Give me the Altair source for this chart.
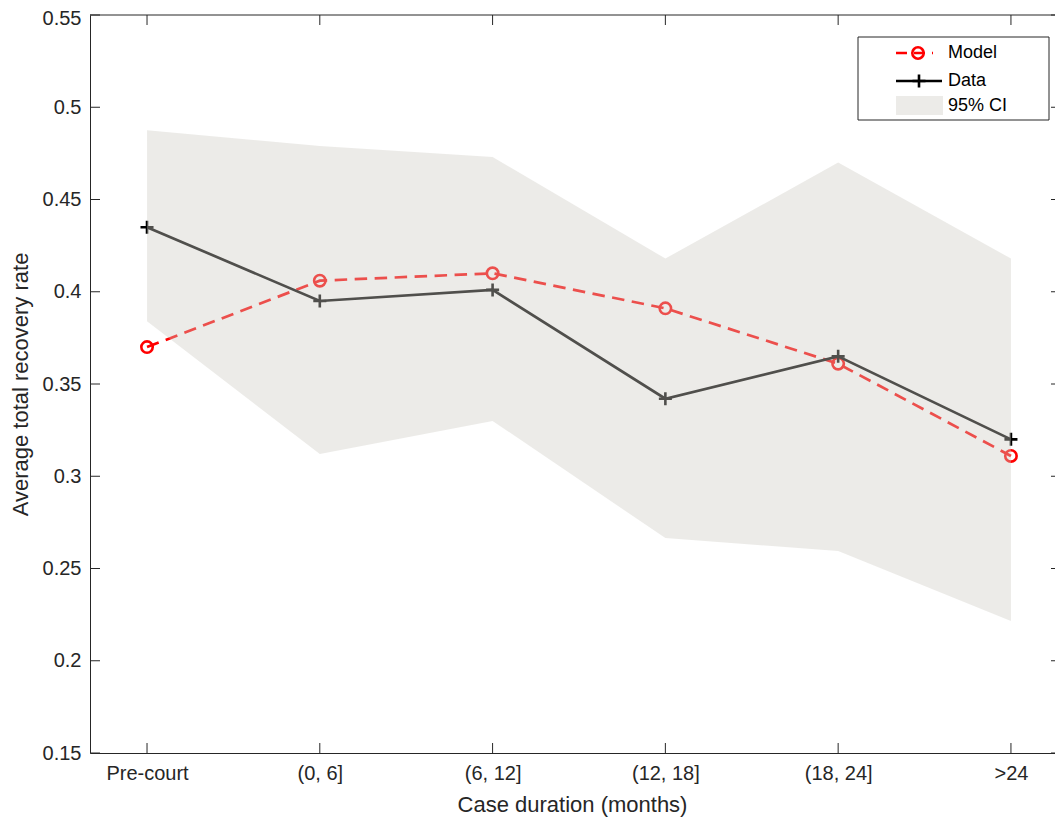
import altair as alt
import pandas as pd

# ---- data ----
categories = ["Pre-court", "(0, 6]", "(6, 12]", "(12, 18]", "(18, 24]", ">24"]
positions = [1, 2, 3, 4, 5, 6]
model_vals = [0.370, 0.406, 0.410, 0.391, 0.361, 0.311]
data_vals = [0.435, 0.395, 0.401, 0.342, 0.365, 0.320]
ci_low = [0.384, 0.312, 0.330, 0.2665, 0.2595, 0.2215]
ci_high = [0.4875, 0.479, 0.473, 0.418, 0.470, 0.418]
y_ticks = [0.15, 0.2, 0.25, 0.3, 0.35, 0.4, 0.45, 0.5, 0.55]

W, H = 965, 738
XDOM = [0.67, 6.255]
YDOM = [0.15, 0.55]
AX = "#262626"
FONT = "Liberation Sans"
CI_COLOR = "#cecbc4"
CI_OPACITY = 0.39

df = pd.DataFrame({
    "pos": positions,
    "cat": categories,
    "model": model_vals,
    "data": data_vals,
    "lo": ci_low,
    "hi": ci_high,
})

label_js = "[" + ",".join("'" + c + "'" for c in categories) + "][datum.value - 1]"

xs = alt.Scale(domain=XDOM, nice=False, zero=False)
ys = alt.Scale(domain=YDOM, nice=False, zero=False)

x_axis = alt.Axis(
    values=positions, labelExpr=label_js, title="Case duration (months)",
    ticks=False, tickSize=0, grid=False, domain=True, domainColor=AX, domainWidth=1,
    labelFontSize=20, labelColor=AX, labelPadding=26, labelBaseline="alphabetic",
    labelFlush=False, labelOverlap=False, labelFont=FONT,
    titleFontSize=22, titleFontWeight="normal", titleColor=AX, titleFont=FONT,
    titleX=482, titleY=58, titleBaseline="alphabetic",
)
y_axis = alt.Axis(
    values=y_ticks, format=".2~f", title="Average total recovery rate",
    ticks=False, tickSize=0, grid=False, domain=True, domainColor=AX, domainWidth=1,
    labelFontSize=20, labelColor=AX, labelPadding=9, labelBaseline="middle",
    labelOffset={"condition": {"test": "datum.value > 0.54", "value": 3}, "value": 0},
    labelFlush=False, labelOverlap=False, labelFont=FONT,
    titleFontSize=22, titleFontWeight="normal", titleColor=AX, titleFont=FONT,
    titleX=-70, titleY=369, titleAngle=270, titleAlign="center", titleBaseline="middle",
)


def XQ(f):
    return alt.X(f, type="quantitative", scale=xs, axis=x_axis)


def YQ(f):
    return alt.Y(f, type="quantitative", scale=ys, axis=y_axis)


base = alt.Chart(df)

model_line = base.mark_line(color="red", strokeWidth=2.7, strokeDash=[12.5, 7.5]).encode(
    x=XQ("pos"), y=YQ("model"))
model_pts = base.mark_point(shape="circle", size=130, filled=False, color="red",
                            strokeWidth=2.6, opacity=1).encode(x=XQ("pos"), y=YQ("model"))
data_line = base.mark_line(color="black", strokeWidth=2.7).encode(
    x=XQ("pos"), y=YQ("data"))
data_pts = base.mark_point(shape="M-1,0L1,0M0,-1L0,1", size=170, filled=False,
                           color="black", strokeWidth=2.6, opacity=1).encode(
    x=XQ("pos"), y=YQ("data"))
area = base.mark_area(color=CI_COLOR, opacity=CI_OPACITY).encode(
    x=XQ("pos"), y=YQ("lo"), y2="hi:Q")

# inward tick marks and the top frame line
ytdf = pd.DataFrame({"v": y_ticks})
xtdf = pd.DataFrame({"v": positions})
one = pd.DataFrame({"k": [0]})
TL = 10
yt_left = alt.Chart(ytdf).mark_rule(color=AX, strokeWidth=1).encode(
    y=YQ("v"), x=alt.value(0), x2=alt.value(TL))
yt_right = alt.Chart(ytdf).mark_rule(color=AX, strokeWidth=1).encode(
    y=YQ("v"), x=alt.value(W - 4), x2=alt.value(W))
xt_bot = alt.Chart(xtdf).mark_rule(color=AX, strokeWidth=1).encode(
    x=XQ("v"), y=alt.value(H - TL), y2=alt.value(H))
xt_top = alt.Chart(xtdf).mark_rule(color=AX, strokeWidth=1).encode(
    x=XQ("v"), y=alt.value(0), y2=alt.value(TL))
top_line = alt.Chart(one).mark_rule(color=AX, strokeWidth=1).encode(
    x=alt.value(0), x2=alt.value(W), y=alt.value(0))

# legend (decoration)
LX0, LX1, LY0, LY1 = 768, 959, 22, 105
leg_box = alt.Chart(one).mark_rect(fill="white", stroke=AX, strokeWidth=1).encode(
    x=alt.value(LX0), x2=alt.value(LX1), y=alt.value(LY0), y2=alt.value(LY1))
leg_model_line = alt.Chart(one).mark_rule(color="red", strokeWidth=2.7, strokeDash=[11, 7]).encode(
    x=alt.value(806), x2=alt.value(843), y=alt.value(38))
leg_model_pt = alt.Chart(one).mark_point(shape="circle", size=130, filled=False, color="red",
                                         strokeWidth=2.6, opacity=1).encode(
    x=alt.value(828), y=alt.value(38))
leg_data_line = alt.Chart(one).mark_rule(color="black", strokeWidth=2.7).encode(
    x=alt.value(806), x2=alt.value(852), y=alt.value(66))
leg_data_pt = alt.Chart(one).mark_point(shape="M-1,0L1,0M0,-1L0,1", size=170, filled=False,
                                        color="black", strokeWidth=2.6, opacity=1).encode(
    x=alt.value(829), y=alt.value(66))
leg_ci = alt.Chart(one).mark_rect(fill=CI_COLOR, opacity=CI_OPACITY).encode(
    x=alt.value(806), x2=alt.value(853), y=alt.value(81), y2=alt.value(100))


def leg_text(txt, y):
    return alt.Chart(one).mark_text(align="left", baseline="middle", fontSize=18,
                                    font=FONT, color="black").encode(
        x=alt.value(858), y=alt.value(y), text=alt.value(txt))


chart = alt.layer(
    model_line, model_pts, data_line, data_pts, area,
    yt_left, yt_right, xt_bot, xt_top, top_line,
    leg_box, leg_model_line, leg_model_pt, leg_data_line, leg_data_pt, leg_ci,
    leg_text("Model", 38), leg_text("Data", 66), leg_text("95% CI", 91),
).properties(
    width=W, height=H,
    autosize=alt.AutoSizeParams(type="none"),
    padding={"left": 82, "top": 7, "right": 0, "bottom": 64},
    background="white",
).configure(
    font=FONT
).configure_view(
    stroke=None
)

chart.save("out.html", embed_options={"renderer": "svg", "actions": False})
